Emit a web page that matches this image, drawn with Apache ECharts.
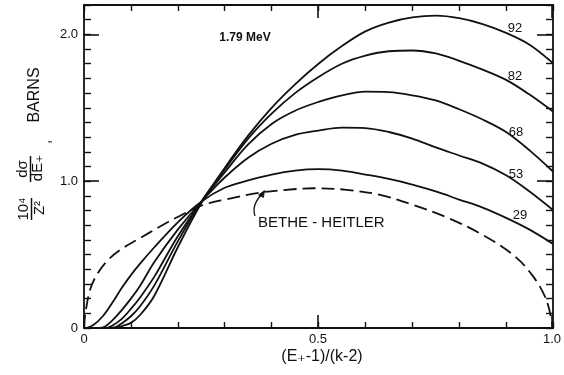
<!DOCTYPE html>
<html>
<head>
<meta charset="utf-8">
<script src="https://cdn.jsdelivr.net/npm/echarts@6/dist/echarts.min.js"></script>
<style>
  html, body { margin: 0; padding: 0; background: #fff; }
  #chart { width: 564px; height: 375px; }
</style>
</head>
<body>
<div id="chart"></div>
<script>
// Positron energy spectra at k = 1.79 MeV for several atomic numbers Z,
// normalised by Z^2, with the Bethe-Heitler (Born approximation) curve.
const curveNames = ['92', '82', '68', '53', '29'];

const z92 = [[0.066,0],[0.08,0.012],[0.1,0.035],[0.12,0.09],[0.15,0.22],[0.2,0.55],[0.25,0.85],[0.3,1.09],[0.35,1.31],[0.4,1.5],[0.45,1.66],[0.5,1.8],[0.55,1.92],[0.6,2.02],[0.65,2.08],[0.7,2.115],[0.75,2.127],[0.8,2.11],[0.85,2.07],[0.9,2.01],[0.95,1.93],[1.0,1.804]];
const z82 = [[0.058,0],[0.07,0.01],[0.08,0.03],[0.1,0.08],[0.12,0.15],[0.15,0.29],[0.2,0.59],[0.25,0.86],[0.3,1.08],[0.35,1.29],[0.4,1.46],[0.45,1.6],[0.5,1.71],[0.55,1.8],[0.6,1.855],[0.65,1.885],[0.7,1.89],[0.75,1.87],[0.8,1.82],[0.85,1.76],[0.9,1.69],[0.95,1.59],[1.0,1.474]];
const z68 = [[0.048,0],[0.06,0.015],[0.08,0.06],[0.1,0.13],[0.12,0.21],[0.15,0.35],[0.2,0.625],[0.25,0.86],[0.3,1.06],[0.35,1.25],[0.4,1.39],[0.45,1.48],[0.5,1.54],[0.55,1.585],[0.6,1.61],[0.65,1.607],[0.7,1.585],[0.75,1.55],[0.8,1.49],[0.85,1.42],[0.9,1.335],[0.95,1.21],[1.0,1.066]];
const z53 = [[0.035,0],[0.045,0.01],[0.06,0.05],[0.08,0.12],[0.1,0.2],[0.12,0.29],[0.15,0.45],[0.2,0.67],[0.25,0.86],[0.3,1.025],[0.35,1.16],[0.4,1.255],[0.45,1.315],[0.5,1.345],[0.55,1.365],[0.6,1.362],[0.65,1.335],[0.7,1.29],[0.75,1.23],[0.8,1.175],[0.85,1.12],[0.9,1.04],[0.95,0.93],[1.0,0.804]];
const z29 = [[0.005,0],[0.02,0.02],[0.04,0.08],[0.06,0.17],[0.08,0.27],[0.1,0.36],[0.12,0.44],[0.15,0.55],[0.2,0.72],[0.25,0.86],[0.3,0.955],[0.35,1.005],[0.4,1.045],[0.45,1.072],[0.5,1.082],[0.55,1.072],[0.6,1.045],[0.65,1.015],[0.7,0.977],[0.75,0.93],[0.8,0.875],[0.85,0.82],[0.9,0.75],[0.95,0.67],[1.0,0.573]];
const betheHeitler = [[0,0],[0.003,0.1],[0.0128,0.259],[0.027,0.361],[0.048,0.452],[0.077,0.532],[0.119,0.611],[0.162,0.691],[0.205,0.765],[0.254,0.838],[0.304,0.877],[0.375,0.922],[0.446,0.945],[0.49,0.952],[0.56,0.941],[0.631,0.907],[0.702,0.838],[0.773,0.754],[0.844,0.645],[0.915,0.498],[0.958,0.35],[0.986,0.19],[1.0,0]];

const xTickValues = [0, 0.5, 1];
const xTickLabels = ['0', '0.5', '1.0'];
const yTickValues = [0, 1, 2];
const yTickLabels = ['0', '1.0', '2.0'];

const INK = '#111';
const FONT = '"Liberation Sans", "DejaVu Sans", sans-serif';

function labelFor(values, labels) {
  return function (v) {
    for (let i = 0; i < values.length; i++) {
      if (Math.abs(v - values[i]) < 1e-6) return labels[i];
    }
    return '';
  };
}

const gridRect = { left: 84, right: 11, top: 5, bottom: 47 };

function minorX(pos, idx) {
  return {
    type: 'value', gridIndex: idx, position: pos, min: 0, max: 1, interval: 0.1,
    axisLine: { show: true, onZero: false, lineStyle: { color: INK, width: 1.8 } },
    axisTick: { show: true, inside: true, length: 6, lineStyle: { color: INK, width: 1.4 } },
    axisLabel: { show: false },
    splitLine: { show: false }
  };
}
function majorX(pos, idx, withLabels) {
  return {
    type: 'value', gridIndex: idx, position: pos, min: 0, max: 1, interval: 0.5,
    axisLine: { show: false, onZero: false },
    axisTick: { show: true, inside: true, length: 13, lineStyle: { color: INK, width: 1.6 } },
    axisLabel: withLabels ? {
      show: true, margin: 5, color: INK, fontSize: 13, fontFamily: FONT,
      formatter: labelFor(xTickValues, xTickLabels)
    } : { show: false },
    splitLine: { show: false }
  };
}
function minorY(pos, idx) {
  return {
    type: 'value', gridIndex: idx, position: pos, min: 0, max: 2.2, interval: 0.1,
    axisLine: { show: true, onZero: false, lineStyle: { color: INK, width: 1.8 } },
    axisTick: { show: true, inside: true, length: 7, lineStyle: { color: INK, width: 1.4 } },
    axisLabel: { show: false },
    splitLine: { show: false }
  };
}
function majorY(pos, idx, withLabels) {
  return {
    type: 'value', gridIndex: idx, position: pos, min: 0, max: 2.2, interval: 1,
    axisLine: { show: false, onZero: false },
    axisTick: { show: true, inside: true, length: 15, lineStyle: { color: INK, width: 1.6 } },
    axisLabel: withLabels ? {
      show: true, margin: 6, color: INK, fontSize: 13, fontFamily: FONT,
      formatter: labelFor(yTickValues, yTickLabels)
    } : { show: false },
    splitLine: { show: false }
  };
}

function curve(name, data, dashed) {
  return {
    name: name, type: 'line', xAxisIndex: 0, yAxisIndex: 0,
    data: data, smooth: 0.35, showSymbol: false, silent: true,
    lineStyle: dashed
      ? { color: INK, width: 1.8, type: [13, 6] }
      : { color: INK, width: 1.8 },
    z: 3
  };
}

const rot = Math.PI / 2;
function vtext(x, y, text, size) {
  return {
    type: 'text', x: x, y: y, rotation: rot,
    style: { text: text, fill: INK, font: size + 'px ' + FONT, align: 'center', verticalAlign: 'middle' }
  };
}
function htext(x, y, text, size, weight) {
  return {
    type: 'text', x: x, y: y,
    style: { text: text, fill: INK, font: (weight || 'normal') + ' ' + size + 'px ' + FONT, align: 'center', verticalAlign: 'middle' }
  };
}

const curveLabelPos = { '92': [515, 28], '82': [515, 76], '68': [516, 132], '53': [516, 174], '29': [520, 215] };

const chart = echarts.init(document.getElementById('chart'), null, { renderer: 'canvas' });
chart.setOption({
  animation: false,
  backgroundColor: '#fff',
  grid: [
    Object.assign({ containLabel: false }, gridRect),
    Object.assign({ containLabel: false }, gridRect)
  ],
  xAxis: [minorX('bottom', 0), minorX('top', 0), majorX('bottom', 1, true), majorX('top', 1, false)],
  yAxis: [minorY('left', 0), minorY('right', 0), majorY('left', 1, true), majorY('right', 1, false)],
  series: [
    curve(curveNames[0], z92),
    curve(curveNames[1], z82),
    curve(curveNames[2], z68),
    curve(curveNames[3], z53),
    curve(curveNames[4], z29),
    curve('BETHE-HEITLER', betheHeitler, true)
  ],
  graphic: [
    // axis title, x
    { type: 'text', x: 322, y: 357, style: {
        text: '(E₊-1)/(k-2)', fill: INK, font: '16px ' + FONT, align: 'center', verticalAlign: 'middle' } },
    // axis title, y: 10^4/Z^2 · dσ/dE₊ , BARNS
    vtext(24, 209, '10⁴', 15),
    { type: 'line', shape: { x1: 31.5, y1: 198, x2: 31.5, y2: 220 }, style: { stroke: INK, lineWidth: 1.5 } },
    vtext(40, 208, 'Z²', 15),
    vtext(23, 169, 'dσ', 15),
    { type: 'line', shape: { x1: 30.5, y1: 156, x2: 30.5, y2: 182 }, style: { stroke: INK, lineWidth: 1.5 } },
    vtext(38, 168, 'dE₊', 15),
    vtext(46, 142, ',', 15),
    vtext(35, 95, 'BARNS', 16),
    // energy annotation
    htext(245, 38, '1.79 MeV', 12, 'bold'),
    // Z labels
    ...curveNames.map(n => htext(curveLabelPos[n][0], curveLabelPos[n][1], n, 13)),
    // Bethe-Heitler label with pointer
    { type: 'text', x: 258, y: 223, style: {
        text: 'BETHE - HEITLER', fill: INK, font: '15px ' + FONT, align: 'left', verticalAlign: 'middle' } },
    { type: 'bezierCurve', shape: { x1: 255, y1: 216, cpx1: 251, cpy1: 205, x2: 263, y2: 193 },
      style: { stroke: INK, lineWidth: 1.3, fill: null } },
    { type: 'polygon', shape: { points: [[264.5, 190.5], [258.5, 195], [263.5, 197.5]] },
      style: { fill: INK, stroke: INK, lineWidth: 0.8 } }
  ]
});
</script>
</body>
</html>
